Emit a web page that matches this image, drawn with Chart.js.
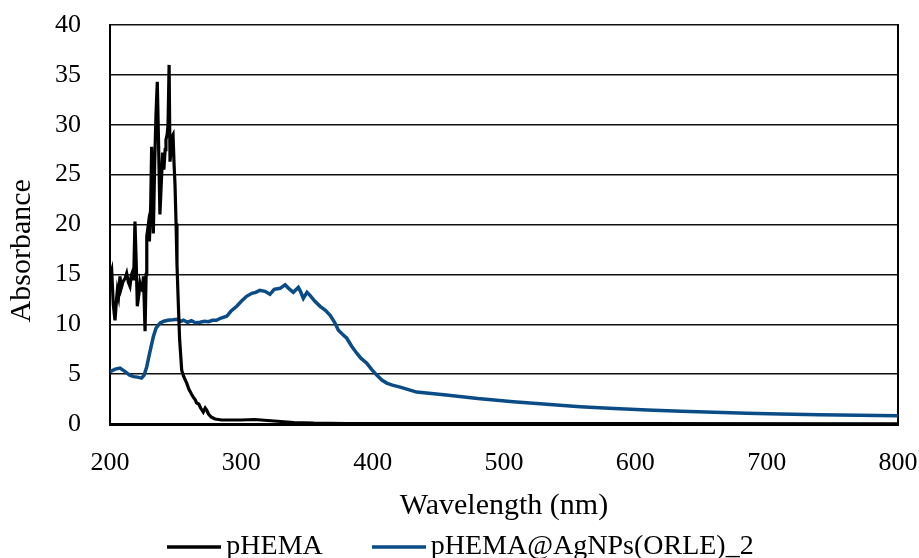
<!DOCTYPE html>
<html>
<head>
<meta charset="utf-8">
<script src="https://cdn.jsdelivr.net/npm/chart.js@4"></script>
<style>
  html, body { margin: 0; padding: 0; background: #fff; }
  #wrap { width: 919px; height: 558px; position: relative; }
</style>
</head>
<body>
<div id="wrap"><canvas id="c"></canvas></div>
<script>
const FONT = '"Liberation Serif", "DejaVu Serif", serif';

// pHEMA (black)
const pWl = [200,201.3,202.5,203.8,205,205.6,206.5,207.6,208.5,210,211.5,212.7,214,215.2,216.2,217,218,219,220,220.8,222,222.8,223.8,224.6,225.5,226.7,227.5,228,229,230,231,231.7,232.3,233,234,235,236,237,238,239,240.1,241,242,242.6,243.5,244.2,245,245.7,246.5,247.2,248,248.8,249.5,250.3,251,252,253,254.6,256,258.4,260,262,263.4,265,266,267.6,269,271,272.5,273.6,275,277,280,285,300,310,320,330,340,355,380,450,600,800];
const pAbs = [14.8,15.4,12,10.4,12.5,13.4,12.8,14.8,13.6,14.3,14.6,15.1,14.2,13.8,14.9,15.2,14.4,20.3,16,11.8,13,14.1,13.5,13.4,14.8,9.3,15,18.8,19.8,18.3,22,27.8,24,19.1,26,31,34.3,28,21,24,27.2,25.5,27.5,28.5,29,30,36,26.3,27.5,28.8,29,26,24,20.1,16,12.1,8.5,5.4,4.8,4.1,3.5,3,2.7,2.4,2.1,2,1.6,1.2,1.6,1.4,1.0,0.7,0.5,0.4,0.4,0.45,0.35,0.25,0.15,0.08,0.05,0.05,0.03,0.02];

// pHEMA@AgNPs(ORLE)_2 (blue)
const aWl = [200,204,207.6,211,215,218,221,224,226,228,230,233,235,238,241,244,248,251,254,256,259,262,265,268.5,272,275,278,281,284,288.9,292,296.5,300,304,308,311,314,318,321.8,325,329.5,333.3,336,339.6,343.4,345,347.2,350,352.3,356,360,364,367.6,371,373.9,377,380.3,384,387.9,391,395.5,399,403.1,407,410.7,415,420.9,433.5,456,480,507,530,558,580,609,635,660,685,710,740,770,800];
const aAbs = [5.25,5.5,5.6,5.3,4.9,4.75,4.7,4.6,4.9,5.75,7,8.75,9.6,10.1,10.3,10.4,10.45,10.5,10.3,10.4,10.2,10.35,10.15,10.2,10.3,10.25,10.4,10.4,10.6,10.8,11.3,11.8,12.3,12.8,13.1,13.2,13.4,13.3,13.0,13.5,13.6,13.95,13.6,13.2,13.7,13.3,12.6,13.2,12.9,12.3,11.8,11.4,10.9,10.2,9.4,9.0,8.6,7.8,7.1,6.6,6.1,5.5,4.9,4.4,4.1,3.9,3.7,3.2,2.9,2.55,2.24,2.0,1.74,1.58,1.4,1.28,1.17,1.08,1.0,0.93,0.88,0.83];

const xTicks = [200,300,400,500,600,700,800];
const yTicks = [0,5,10,15,20,25,30,35,40];

const pts = (xs, ys) => xs.map((x,i) => ({x, y: ys[i]}));
const clear = 'rgba(0,0,0,0)';

// fixed legend height, and nudge the legend row right like the reference
const legendBox = {
  id: 'legendBox',
  beforeInit(chart) {
    const fit = chart.legend.fit;
    chart.legend.fit = function () { fit.call(this); this.height = 34; };
  },
  afterLayout(chart) {
    chart.legend.left += 16;
    chart.legend.right += 16;
  }
};

// long legend swatch that runs almost up to the text
function swatch(color, width) {
  const c = document.createElement('canvas');
  c.width = 54; c.height = 6;
  const g = c.getContext('2d');
  g.strokeStyle = color; g.lineWidth = width;
  g.beginPath(); g.moveTo(0, 3); g.lineTo(54, 3); g.stroke();
  return c;
}

new Chart(document.getElementById('c'), {
  type: 'line',
  data: {
    datasets: [
      { label: 'pHEMA', data: pts(pWl,pAbs), borderColor: '#000', backgroundColor: '#000', borderWidth: 3.2, pointRadius: 0, tension: 0 },
      { label: 'pHEMA@AgNPs(ORLE)_2', data: pts(aWl,aAbs), borderColor: '#0b4c86', backgroundColor: '#0b4c86', borderWidth: 3.5, pointRadius: 0, tension: 0 }
    ]
  },
  plugins: [legendBox],
  options: {
    responsive: true,
    maintainAspectRatio: false,
    animation: false,
    layout: { padding: { left: 0, right: 21, top: 25, bottom: 0 } },
    plugins: {
      tooltip: { enabled: false },
      legend: {
        position: 'bottom',
        labels: {
          font: { family: FONT, size: 28 }, color: '#000',
          usePointStyle: true, pointStyleWidth: 36, padding: 9,
          generateLabels: chart => {
            const items = Chart.defaults.plugins.legend.labels.generateLabels(chart);
            items[0].text = items[0].text + '\u2003\u2002 ';
            items.forEach((it, i) => {
              it.pointStyle = swatch(chart.data.datasets[i].borderColor, 3.5);
            });
            return items;
          }
        }
      }
    },
    scales: {
      x: {
        type: 'linear', min: 200, max: 800,
        afterBuildTicks: ax => { ax.ticks = xTicks.map(v => ({value: v})); },
        afterFit: ax => { ax.height = 100; },
        ticks: { font: { family: FONT, size: 26 }, color: '#000', padding: 0, maxRotation: 0 },
        grid: { color: clear, tickColor: clear, drawTicks: true, tickLength: 24 },
        border: { color: '#000', width: 3 },
        title: { display: true, text: 'Wavelength (nm)', font: { family: FONT, size: 30 }, color: '#000', padding: { top: 8, bottom: 0 } }
      },
      y: {
        min: 0, max: 40,
        afterBuildTicks: ax => { ax.ticks = yTicks.map(v => ({value: v})); },
        afterFit: ax => { ax.width = 110; },
        ticks: { font: { family: FONT, size: 26 }, color: '#000', padding: 0 },
        grid: { color: '#111', lineWidth: 1.5, tickColor: clear, drawTicks: true, tickLength: 29 },
        border: { color: '#000', width: 2 },
        title: { display: true, text: 'Absorbance\u2003\u2002 ', font: { family: FONT, size: 30 }, color: '#000', padding: { top: 4, bottom: 0 } }
      },
      y2: {
        position: 'right', min: 0, max: 40,
        afterFit: ax => { ax.width = 0; },
        ticks: { display: false },
        grid: { display: false, drawTicks: false },
        border: { color: '#000', width: 2 }
      }
    }
  }
});
</script>
</body>
</html>
